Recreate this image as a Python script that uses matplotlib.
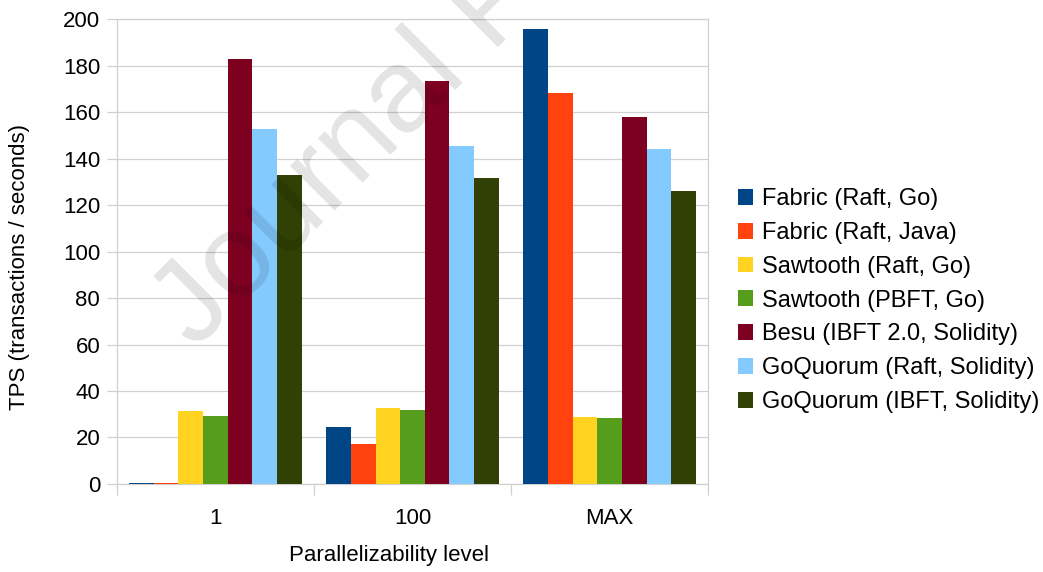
import matplotlib
matplotlib.use("Agg")
import matplotlib.pyplot as plt
import numpy as np

plt.rcParams['font.family'] = ['Liberation Sans', 'DejaVu Sans']

levels = ['1', '100', 'MAX']
series_names = [
    'Fabric (Raft, Go)',
    'Fabric (Raft, Java)',
    'Sawtooth (Raft, Go)',
    'Sawtooth (PBFT, Go)',
    'Besu (IBFT 2.0, Solidity)',
    'GoQuorum (Raft, Solidity)',
    'GoQuorum (IBFT, Solidity)',
]
fabric_go = [0.4, 24.6, 195.7]
fabric_java = [0.3, 17.2, 168.5]
sawtooth_raft = [31.3, 32.8, 29.0]
sawtooth_pbft = [29.1, 31.9, 28.4]
besu_ibft = [182.9, 173.5, 158.2]
quorum_raft = [152.8, 145.4, 144.1]
quorum_ibft = [133.2, 131.7, 126.1]
colors = ['#004586', '#ff420e', '#ffd320', '#579d1c', '#7e0021', '#83caff', '#314004']

all_series = [fabric_go, fabric_java, sawtooth_raft, sawtooth_pbft,
              besu_ibft, quorum_raft, quorum_ibft]

fig = plt.figure(figsize=(10.43, 5.72), dpi=100)
ax = fig.add_axes([0.112, 0.154, 0.567, 0.812])

x = np.arange(len(levels))
w = 0.125
for i, (vals, name, c) in enumerate(zip(all_series, series_names, colors)):
    ax.bar(x + (i - 3) * w, vals, width=w, color=c, label=name, zorder=3, linewidth=0)

grid_c = '#d0d0d0'
ax.set_xlim(-0.5, 2.5)
ax.set_ylim(0, 200)
ax.set_yticks(range(0, 201, 20))
ax.yaxis.grid(True, color=grid_c, linewidth=0.9, zorder=0)
ax.set_axisbelow(True)
for s in ax.spines.values():
    s.set_color(grid_c)
    s.set_linewidth(0.9)

ax.set_xticks(x)
ax.set_xticklabels(levels)
ax.set_xticks([-0.5, 0.5, 1.5, 2.5], minor=True)
ax.tick_params(axis='x', which='major', length=0, pad=17, labelsize=16)
ax.tick_params(axis='x', which='minor', length=8, color=grid_c, width=0.9)
ax.tick_params(axis='y', length=7, color=grid_c, width=0.9, pad=5, labelsize=16)

ax.set_xlabel('Parallelizability level', fontsize=16)
ax.xaxis.set_label_coords(0.46, -0.132)
ax.set_ylabel('TPS (transactions / seconds)', fontsize=16)
ax.yaxis.set_label_coords(-0.146, 0.466)

ax.legend(loc='center left', bbox_to_anchor=(738 / 1043, 0.4746),
          bbox_transform=fig.transFigure, frameon=False, fontsize=17,
          borderaxespad=0, borderpad=0, handlelength=0.65, handleheight=0.65,
          handletextpad=0.35, labelspacing=0.5)

# watermark
fig.text(0.187, 0.388, 'Journal Pre-proof', fontsize=85, rotation=45,
         rotation_mode='anchor', ha='left', va='baseline',
         color='black', alpha=0.11, zorder=10)

fig.savefig('out.png', dpi=100)
